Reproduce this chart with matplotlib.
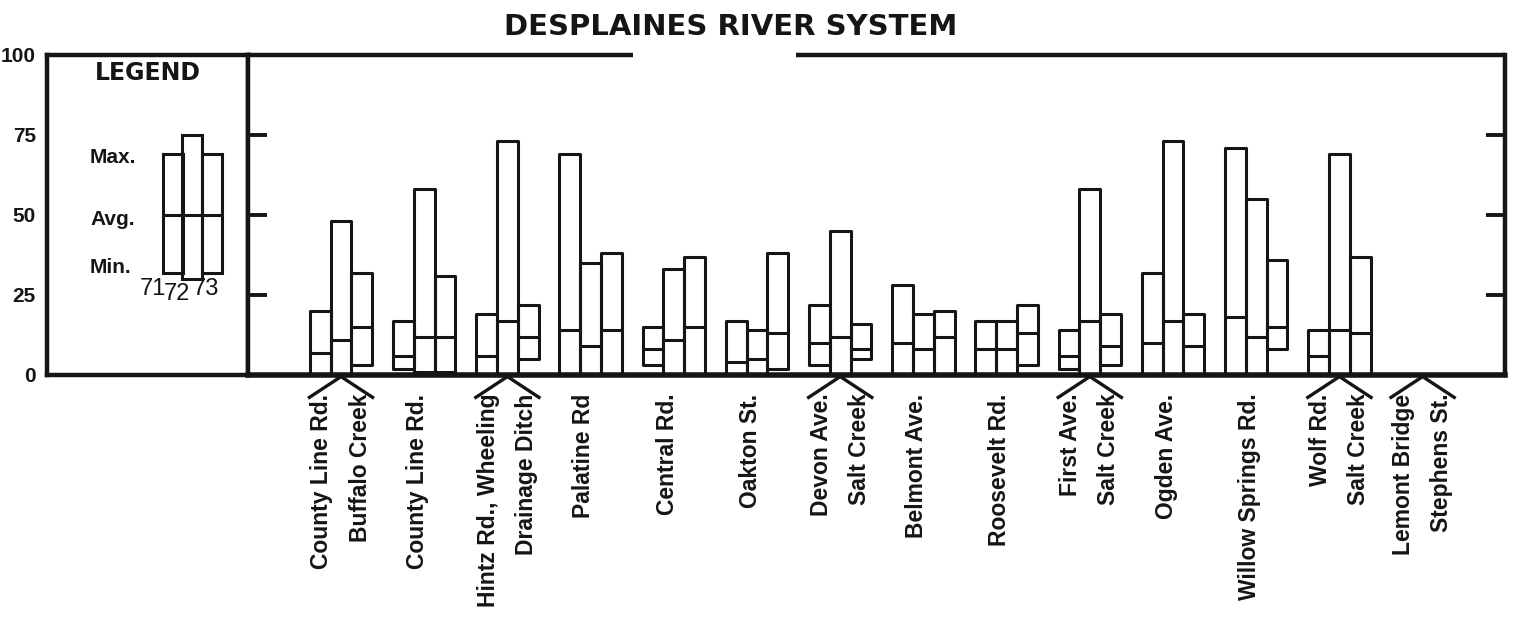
import numpy as np
import matplotlib
matplotlib.use("Agg")
import matplotlib.pyplot as plt

# stations along the river, upstream to downstream
stations = [
    "County Line Rd.\nBuffalo Creek",
    "County Line Rd.",
    "Hintz Rd., Wheeling\nDrainage Ditch",
    "Palatine Rd",
    "Central Rd.",
    "Oakton St.",
    "Devon Ave.\nSalt Creek",
    "Belmont Ave.",
    "Roosevelt Rd.",
    "First Ave.\nSalt Creek",
    "Ogden Ave.",
    "Willow Springs Rd.",
    "Wolf Rd.\nSalt Creek",
    "Lemont Bridge\nStephens St.",
]
years = ["71", "72", "73"]
nan = np.nan

# min / avg / max per station, one column per year (71, 72, 73)
min_vals = np.array([
    [0, 0, 3], [2, 1, 1], [0, 0, 5], [0, 0, 0], [3, 0, 0], [0, 0, 2], [3, 0, 5],
    [0, 0, 0], [0, 0, 3], [2, 0, 3], [0, 0, 0], [0, 0, 8], [0, 0, 0], [nan, nan, nan],
])
avg_vals = np.array([
    [7, 11, 15], [6, 12, 12], [6, 17, 12], [14, 9, 14], [8, 11, 15], [4, 5, 13], [10, 12, 8],
    [10, 8, 12], [8, 8, 13], [6, 17, 9], [10, 17, 9], [18, 12, 15], [6, 14, 13], [nan, nan, nan],
])
max_vals = np.array([
    [20, 48, 32], [17, 58, 31], [19, 73, 22], [69, 35, 38], [15, 33, 37], [17, 14, 38], [22, 45, 16],
    [28, 19, 20], [17, 17, 22], [14, 58, 19], [32, 73, 19], [71, 55, 36], [14, 69, 37], [nan, nan, nan],
])
# stations where a tributary joins (marked with a caret under the axis)
tributary = [0, 2, 6, 9, 12, 13]

# legend sample bar
legend_min = [32, 30, 32]
legend_avg = [50, 50, 50]
legend_max = [69, 75, 69]

ink = "#151515"
W, H = 1513, 640
fig = plt.figure(figsize=(W / 100, H / 100), dpi=100)

bot = 1 - 375 / H
hgt = 320 / H
axl = fig.add_axes([47 / W, bot, (248 - 47) / W, hgt])
ax = fig.add_axes([248 / W, bot, (1505 - 248) / W, hgt])

x = np.arange(len(stations))
bw = 0.25
xmin, xmax = -1.118, 13.99

# main panel bars
for j in range(3):
    xs = x + (j - 1) * bw
    ok = ~np.isnan(max_vals[:, j])
    ax.bar(xs[ok], max_vals[ok, j] - min_vals[ok, j], bottom=min_vals[ok, j], width=bw,
           fill=False, edgecolor=ink, linewidth=2.2, joinstyle="round")
    ax.hlines(avg_vals[ok, j], xs[ok] - bw / 2, xs[ok] + bw / 2, colors=ink, linewidth=2.2)

ax.set_xlim(xmin, xmax)
ax.set_ylim(0, 100)
ax.set_xticks([])
ax.set_yticks([25, 50, 75])
ax.tick_params(axis="y", which="both", direction="in", length=14, width=2.8, color=ink,
               labelleft=False, right=True, left=True)
for s in ["left", "right"]:
    ax.spines[s].set_linewidth(3.2)
    ax.spines[s].set_color(ink)
ax.spines["bottom"].set_linewidth(4)
ax.spines["bottom"].set_color(ink)
ax.spines["top"].set_visible(False)
# top rule broken for the title
gap_l, gap_r = (633 - 341) / 83.2, (796 - 341) / 83.2
ax.plot([xmin, gap_l], [100, 100], color=ink, lw=3.2, clip_on=False, solid_capstyle="butt")
ax.plot([gap_r, xmax], [100, 100], color=ink, lw=3.2, clip_on=False, solid_capstyle="butt")

# tributary carets and station names
for i in tributary:
    ax.plot([i - 0.38, i, i + 0.38], [-7, -0.5, -7], color=ink, lw=2.4, clip_on=False)
for i, name in enumerate(stations):
    off = 0.0 if "\n" in name else -0.08
    ax.text(i + off, -5.8, name, rotation=90, ha="center", va="top", multialignment="right",
            fontsize=16.5, fontweight="bold", family="Liberation Sans", linespacing=1.85, color=ink)

# legend panel
axl.set_xlim(0, 201)
axl.set_ylim(0, 100)
axl.set_xticks([])
axl.set_yticks([0, 25, 50, 75, 100])
axl.set_yticklabels(["0", "25", "50", "75", "100"], fontsize=15, fontweight="bold",
                    family="Liberation Sans", color=ink)
axl.tick_params(axis="y", length=0, pad=8)
for s in axl.spines.values():
    s.set_linewidth(3.2)
    s.set_color(ink)

lx = [126, 145, 165]
axl.bar(lx, np.array(legend_max) - np.array(legend_min), bottom=legend_min, width=20,
        fill=False, edgecolor=ink, linewidth=2.2)
axl.hlines(legend_avg, np.array(lx) - 10, np.array(lx) + 10, colors=ink, linewidth=2.2)
axl.text(101, 94.4, "LEGEND", ha="center", va="center", fontsize=17, fontweight="bold",
         family="DejaVu Sans", color=ink)
for lab, yy in zip(["Max.", "Avg.", "Min."], [68, 48.5, 33.5]):
    axl.text(43, yy, lab, ha="left", va="center", fontsize=15, fontweight="bold",
             family="Liberation Sans", color=ink)
for lab, xx, yy in zip(years, [106, 130, 159], [27, 25.3, 27]):
    axl.text(xx, yy, lab, ha="center", va="center", fontsize=17,
             family="Liberation Sans", color=ink)

fig.text(731 / W, 1 - 27 / H, "DESPLAINES RIVER SYSTEM", ha="center", va="center",
         fontsize=21, fontweight="bold", family="DejaVu Sans", color=ink)

fig.savefig("out.png", dpi=100, facecolor="white")
